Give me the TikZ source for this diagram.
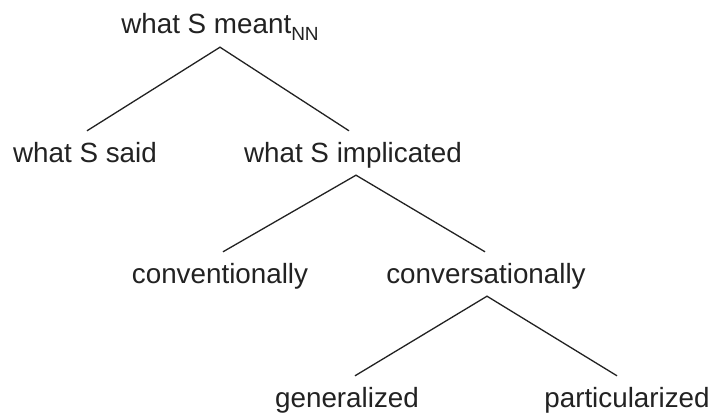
\documentclass[tikz,border=0pt]{standalone}
\usepackage{fontspec}
\setmainfont{Liberation Sans}
\definecolor{ink}{HTML}{222222}
\begin{document}
\begin{tikzpicture}[x=1pt,y=-1pt,
  lbl/.style={font=\fontsize{27.8}{32}\selectfont, text=ink, inner sep=5pt,
              text height=26pt, text depth=8pt, anchor=base},
  edge/.style={draw=ink, line width=1.3pt}]
\useasboundingbox[fill=white] (0,0) rectangle (713,415);
\node[lbl] (root) at (220,34) {what S meant{\fontsize{19}{20}\selectfont\raisebox{-7pt}{NN}}};
\node[lbl] (said) at (85,162) {what S said};
\node[lbl] (impl) at (353,162) {what S implicated};
\node[lbl] (conv) at (220,283) {conventionally};
\node[lbl] (convers) at (486,283) {conversationally};
\node[lbl] (gen) at (347,407) {generalized};
\node[lbl] (part) at (627,407) {particularized};
\draw[edge] ([xshift=2pt]said.north) -- (root.south) -- ([xshift=-4pt]impl.north);
\draw[edge] ([xshift=3pt]conv.north) -- ([xshift=3pt]impl.south) -- ([xshift=-1pt]convers.north);
\draw[edge] ([xshift=8pt]gen.north) -- ([xshift=1pt]convers.south) -- ([xshift=-10pt]part.north);
\end{tikzpicture}
\end{document}
